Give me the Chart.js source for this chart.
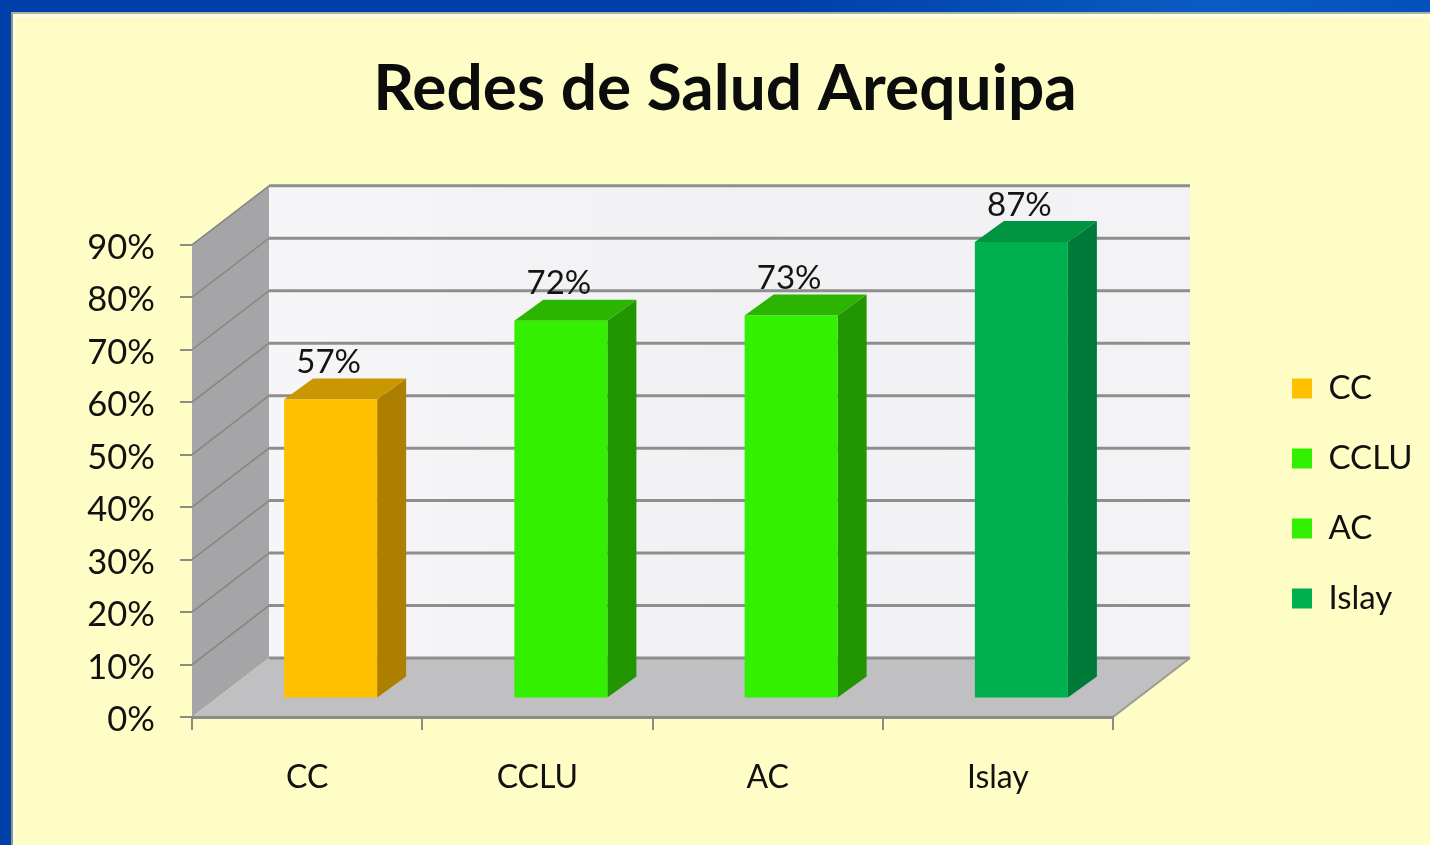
<!DOCTYPE html>
<html><head><meta charset="utf-8">
<style>
html,body{margin:0;padding:0;width:1430px;height:845px;overflow:hidden;background:#0040A8}
#top{position:absolute;left:0;top:0;width:1430px;height:13px;background:linear-gradient(90deg,#0040A8 0%,#0040A8 55%,#0A5CC4 85%,#0450BC 100%)}
#panel{position:absolute;left:11px;top:12px;width:1419px;height:833px;box-sizing:border-box;background:#FFFDC6;border-top:2px solid #A9B59A;border-left:2px solid #8E9A80;box-shadow:inset 0 3px 0 #FFFEE6,inset 3px 0 0 #FFFEE0}
canvas{position:absolute;left:0;top:0}
</style>
</head><body>
<div id="top"></div><div id="panel"></div>
<canvas id="c" width="1430" height="845"></canvas>
<script src="https://cdn.jsdelivr.net/npm/chart.js@4"></script>
<script>
const categories = ["CC","CCLU","AC","Islay"];
const values = [57,72,73,87];
const labels = ["57%","72%","73%","87%"];
const tickStep = 10;
const axisMax = 90;
const frontColors = ["#FFC000","#33F000","#33F000","#00B050"];
const topColors = ["#C99700","#2BB500","#2BB500","#009440"];
const sideColors = ["#AD7F00","#229600","#229600","#007A38"];
const FONT = "Lato, 'Noto Sans', sans-serif";
const WALL = {dx:77, dy:-59};
const BAR = {dx:23.5, dy:-18.5, depthX:29, depthY:-21};

const scene = {
  id:'scene',
  beforeLayout(chart){
    const l = chart.legend;
    if(!l._wrapped){
      const fit = l.fit;
      l.fit = function(){ fit.call(this); this.width = 1430-1113; };
      l._wrapped = true;
    }
  },
  afterLayout(chart){
    const l = chart.legend;
    l.left = 1255; l.right = 1430;
    l.top += 71; l.bottom += 71;
  },
  beforeDraw(chart){
    const ctx = chart.ctx, x = chart.scales.x, y = chart.scales.y;
    const L = x.left, R = x.right, B = y.getPixelForValue(0), T = y.getPixelForValue(axisMax);
    const d = WALL;
    const poly = (pts,fill)=>{ctx.beginPath();pts.forEach((p,i)=>i?ctx.lineTo(p[0],p[1]):ctx.moveTo(p[0],p[1]));ctx.closePath();ctx.fillStyle=fill;ctx.fill();};
    const seg = (a,b,c,w)=>{ctx.beginPath();ctx.moveTo(a[0],a[1]);ctx.lineTo(b[0],b[1]);ctx.strokeStyle=c;ctx.lineWidth=w;ctx.stroke();};
    ctx.save();
    const g = ctx.createLinearGradient(L+d.dx,0,R+d.dx,0);
    g.addColorStop(0,'#F6F6F8');g.addColorStop(.5,'#F1F1F4');g.addColorStop(1,'#F3F3F6');
    poly([[L+d.dx,T+d.dy],[R+d.dx,T+d.dy],[R+d.dx,B+d.dy],[L+d.dx,B+d.dy]],g);
    poly([[L,T],[L+d.dx,T+d.dy],[L+d.dx,B+d.dy],[L,B]],'#A5A5A7');
    poly([[L,B],[R,B],[R+d.dx,B+d.dy],[L+d.dx,B+d.dy]],'#C0C0C3');
    for(let v=0;v<=axisMax;v+=tickStep){
      const p = y.getPixelForValue(v);
      if(v>0) seg([L,p],[L+d.dx,p+d.dy],'#858585',1.5);
      seg([L+d.dx,p+d.dy],[R+d.dx,p+d.dy],'#8E8E8E',3);
    }
    seg([R,B],[R+d.dx,B+d.dy],'#9A9A90',2);
    ctx.restore();
  },
  beforeDatasetsDraw(chart){
    const ctx = chart.ctx, meta = chart.getDatasetMeta(0);
    const b = BAR;
    ctx.save();
    ctx.translate(b.dx,b.dy);
    meta.data.forEach((e,i)=>{
      const hw = e.width/2, l = e.x-hw, r = e.x+hw, t = e.y, bt = e.base;
      ctx.fillStyle = sideColors[i];
      ctx.beginPath();ctx.moveTo(r,t);ctx.lineTo(r+b.depthX,t+b.depthY);ctx.lineTo(r+b.depthX,bt+b.depthY);ctx.lineTo(r,bt);ctx.closePath();ctx.fill();
      ctx.fillStyle = topColors[i];
      ctx.beginPath();ctx.moveTo(l,t);ctx.lineTo(l+b.depthX,t+b.depthY);ctx.lineTo(r+b.depthX,t+b.depthY);ctx.lineTo(r,t);ctx.closePath();ctx.fill();
    });
    ctx.restore();
    ctx.save();
    ctx.translate(b.dx,b.dy);
  },
  afterDatasetsDraw(chart){
    const ctx = chart.ctx;
    ctx.restore();
    const meta = chart.getDatasetMeta(0), b = BAR;
    ctx.save();
    ctx.font = "33px "+FONT;
    ctx.fillStyle = '#141414';
    ctx.textAlign='center';ctx.textBaseline='middle';
    meta.data.forEach((e,i)=>ctx.fillText(labels[i],e.x+b.dx-2,e.y+b.dy-37));
    ctx.restore();
  }
};

new Chart(document.getElementById('c'),{
  type:'bar',
  data:{labels:categories,datasets:[{data:values,backgroundColor:frontColors,borderWidth:0,barPercentage:0.404,categoryPercentage:1}]},
  plugins:[scene],
  options:{
    responsive:false,animation:false,
    layout:{padding:{left:20,right:0,top:0,bottom:0}},
    plugins:{
      tooltip:{enabled:false},
      title:{display:true,text:"Redes de Salud Arequipa",color:'#0c0c0c',align:'center',
        font:{family:FONT,size:64,weight:'bold',lineHeight:1.2},padding:{top:51,bottom:117}},
      legend:{position:'right',align:'center',
        labels:{boxWidth:20,boxHeight:20,padding:37,color:'#111',font:{family:FONT,size:33},
          generateLabels:()=>categories.map((c,i)=>({text:c,fillStyle:frontColors[i],strokeStyle:frontColors[i],lineWidth:0,hidden:false,index:i,fontColor:'#111'}))}}
    },
    scales:{
      x:{type:'category',offset:true,
        afterFit(s){s.height=128;},
        grid:{offset:true,drawOnChartArea:false,drawTicks:true,tickLength:13,color:'#8C8C84',lineWidth:2},
        border:{color:'#8C8C84',width:3},
        ticks:{color:'#111',padding:28,font:{family:FONT,size:32},maxRotation:0}},
      y:{min:0,max:axisMax,
        afterFit(s){s.width=172;},
        grid:{drawOnChartArea:false,drawTicks:true,tickLength:12,color:'#8C8C84',lineWidth:2},
        border:{display:false},
        ticks:{stepSize:tickStep,color:'#111',padding:25,labelOffset:3,font:{family:FONT,size:34.5},callback:v=>v+'%'}}
    }
  }
});
</script>
</body></html>
